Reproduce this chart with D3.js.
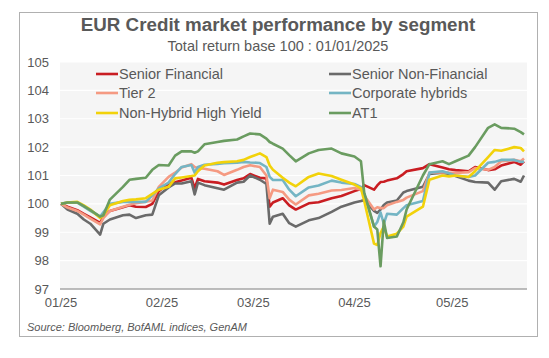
<!DOCTYPE html>
<html><head><meta charset="utf-8">
<script src="https://cdn.jsdelivr.net/npm/d3@7"></script>
<style>body{margin:0;background:#fff}svg{display:block;font-family:"Liberation Sans",Arial,sans-serif}</style>
</head><body><svg id="c" width="549" height="358"></svg>
<script>
const dates = ["2025-01-01","2025-01-03","2025-01-06","2025-01-08","2025-01-10","2025-01-13","2025-01-14","2025-01-16","2025-01-20","2025-01-22","2025-01-24","2025-01-27","2025-01-29","2025-01-31","2025-02-03","2025-02-05","2025-02-07","2025-02-10","2025-02-11","2025-02-12","2025-02-14","2025-02-18","2025-02-20","2025-02-24","2025-02-26","2025-02-28","2025-03-03","2025-03-05","2025-03-06","2025-03-07","2025-03-10","2025-03-12","2025-03-14","2025-03-18","2025-03-21","2025-03-25","2025-03-28","2025-04-01","2025-04-03","2025-04-04","2025-04-07","2025-04-08","2025-04-09","2025-04-10","2025-04-11","2025-04-14","2025-04-16","2025-04-17","2025-04-22","2025-04-24","2025-04-28","2025-04-30","2025-05-02","2025-05-06","2025-05-08","2025-05-12","2025-05-14","2025-05-16","2025-05-20","2025-05-22","2025-05-23"];

const seniorFinancial = [100.0,99.9,99.78,99.65,99.52,99.33,99.55,99.75,99.88,99.95,99.9,99.89,100.0,100.45,100.72,100.76,100.82,100.92,100.55,100.88,100.8,100.75,100.68,100.84,100.9,101.05,100.92,100.9,99.9,100.05,100.2,99.95,99.8,100.02,100.06,100.2,100.28,100.45,100.52,100.66,100.5,100.65,100.77,100.78,100.82,100.9,101.05,101.15,101.26,101.4,101.28,101.22,101.19,101.15,101.3,101.19,101.22,101.35,101.48,101.38,101.5];
const seniorNonFinancial = [100.0,99.8,99.65,99.45,99.3,98.92,99.3,99.45,99.6,99.62,99.5,99.6,99.62,100.3,100.58,100.72,100.72,100.8,100.33,100.75,100.66,100.55,100.5,100.75,100.78,101.0,100.85,100.7,99.3,99.55,99.65,99.32,99.2,99.42,99.5,99.72,99.9,100.05,100.1,100.14,99.75,99.68,99.8,99.96,100.05,100.12,100.4,100.45,100.6,101.05,101.1,101.05,100.98,100.82,100.77,100.75,100.5,100.8,100.88,100.78,101.0];
const tier2 = [100.0,99.87,99.75,99.62,99.48,99.28,99.5,99.75,99.9,99.97,100.02,100.08,100.12,100.6,100.95,101.1,101.28,101.4,101.3,101.26,101.24,101.15,101.02,101.2,101.3,101.36,101.3,101.0,100.2,100.5,100.42,100.15,99.98,100.3,100.36,100.47,100.49,100.56,100.5,100.3,99.8,99.88,99.85,99.85,99.95,100.07,100.14,100.22,100.45,101.1,101.12,101.1,101.09,101.12,101.26,101.2,101.3,101.5,101.55,101.5,101.6];
const corporateHybrids = [100.0,100.05,100.04,99.9,99.75,99.55,99.7,100.0,100.07,100.07,100.07,100.07,100.3,100.55,100.75,101.05,101.3,101.37,101.1,101.3,101.38,101.41,101.43,101.45,101.48,101.46,101.44,101.3,100.95,100.84,100.84,100.5,100.27,100.58,100.65,100.82,100.75,100.7,100.6,100.35,99.2,99.36,99.7,99.3,99.65,99.62,99.85,99.95,100.1,101.1,101.15,101.08,101.0,100.95,101.0,101.45,101.48,101.55,101.55,101.48,101.48];
const nonHybridHY = [100.0,100.05,100.07,99.95,99.8,99.5,99.6,99.95,100.1,100.14,100.16,100.2,100.35,100.5,100.6,100.9,100.93,100.98,101.0,101.15,101.35,101.45,101.47,101.5,101.55,101.65,101.78,101.65,101.35,101.2,100.92,100.75,100.62,100.95,101.07,100.98,100.85,100.68,100.55,100.1,98.6,98.55,98.97,99.2,98.85,98.95,99.2,99.55,99.9,100.85,101.0,100.97,101.0,100.95,101.15,101.65,101.9,101.87,102.0,101.97,101.85];
const at1 = [100.0,100.05,100.05,99.92,99.78,99.55,99.6,100.15,100.6,100.85,100.88,100.92,101.2,101.37,101.35,101.7,101.85,101.85,101.8,101.85,102.1,102.18,102.22,102.27,102.38,102.48,102.45,102.3,102.18,102.12,101.95,101.72,101.5,101.78,101.9,101.95,101.78,101.67,101.5,100.4,99.2,99.1,97.8,99.4,98.8,98.85,99.35,99.8,101.0,101.4,101.5,101.4,101.5,101.7,102.0,102.68,102.8,102.68,102.65,102.53,102.45];

const seriesNames = ["Senior Financial","Senior Non-Financial","Tier 2","Corporate hybrids","Non-Hybrid High Yield","AT1"];
const seriesColors = ["#c91d22","#6a6a6a","#f59a82","#74b5c4","#f2d20a","#6a9c60"];
const yTicks = [97,98,99,100,101,102,103,104,105];
const xTickLabels = ["01/25","02/25","03/25","04/25","05/25"];
const xTickDates = ["2025-01-01","2025-02-01","2025-03-01","2025-04-01","2025-05-01"];

const title = "EUR Credit market performance by segment";
const subtitle = "Total return base 100 : 01/01/2025";
const source = "Source: Bloomberg, BofAML indices, GenAM";

const allValues = [seniorFinancial, seniorNonFinancial, tier2, corporateHybrids, nonHybridHY, at1];
const parse = d3.timeParse("%Y-%m-%d");
const dts = dates.map(parse);

const svg = d3.select("#c");
const txt = "#595959";

svg.append("rect").attr("x",19.5).attr("y",12.5).attr("width",518).attr("height",324)
  .attr("fill","#fff").attr("stroke","#b0b0b0").attr("stroke-width",1);

const x = d3.scaleTime().domain([dts[0], dts[dts.length-1]]).range([61, 524]);
const y = d3.scaleLinear().domain([97,105]).range([289,62]);

svg.append("rect").attr("x",60).attr("y",62).attr("width",467).attr("height",227).attr("fill","#f5f5f5");

svg.append("g").selectAll("line").data(yTicks.slice(1)).join("line")
  .attr("x1",60).attr("x2",527).attr("y1",d=>y(d)).attr("y2",d=>y(d))
  .attr("stroke","#ffffff").attr("stroke-width",1.2);

svg.append("g").selectAll("text").data(yTicks).join("text")
  .attr("x",49).attr("y",d=>y(d)).attr("dy","0.35em").attr("text-anchor","end")
  .attr("font-size",13).attr("fill",txt).text(d=>d);

svg.append("line").attr("x1",60).attr("x2",527).attr("y1",289).attr("y2",289)
  .attr("stroke","#a6a6a6").attr("stroke-width",1.5);

svg.append("g").selectAll("text").data(xTickLabels).join("text")
  .attr("x",(d,i)=>x(parse(xTickDates[i]))).attr("y",307).attr("text-anchor","middle")
  .attr("font-size",13).attr("fill",txt).text(d=>d);

const line = d3.line().x((d,i)=>x(dts[i])).y(d=>y(d));
allValues.forEach((vals,k)=>{
  svg.append("path").attr("d",line(vals)).attr("fill","none")
    .attr("stroke",seriesColors[k]).attr("stroke-width",2.6).attr("stroke-linejoin","round");
});

// legend
const legPos = [[96,74],[329,74],[96,93],[329,93],[96,113],[329,113]];
seriesNames.forEach((n,k)=>{
  const [lx,ly] = legPos[k];
  svg.append("line").attr("x1",lx).attr("x2",lx+22).attr("y1",ly).attr("y2",ly)
    .attr("stroke",seriesColors[k]).attr("stroke-width",2.6);
  svg.append("text").attr("x",lx+23).attr("y",ly).attr("dy","0.35em")
    .attr("font-size",14.5).attr("fill",txt).text(n);
});

svg.append("text").attr("x",278).attr("y",31).attr("text-anchor","middle")
  .attr("font-size",18.8).attr("font-weight","bold").attr("fill",txt).text(title);
svg.append("text").attr("x",278).attr("y",51).attr("text-anchor","middle")
  .attr("font-size",14.5).attr("fill",txt).text(subtitle);
svg.append("text").attr("x",27).attr("y",331)
  .attr("font-size",11).attr("font-style","italic").attr("fill",txt).text(source);
</script></body></html>
